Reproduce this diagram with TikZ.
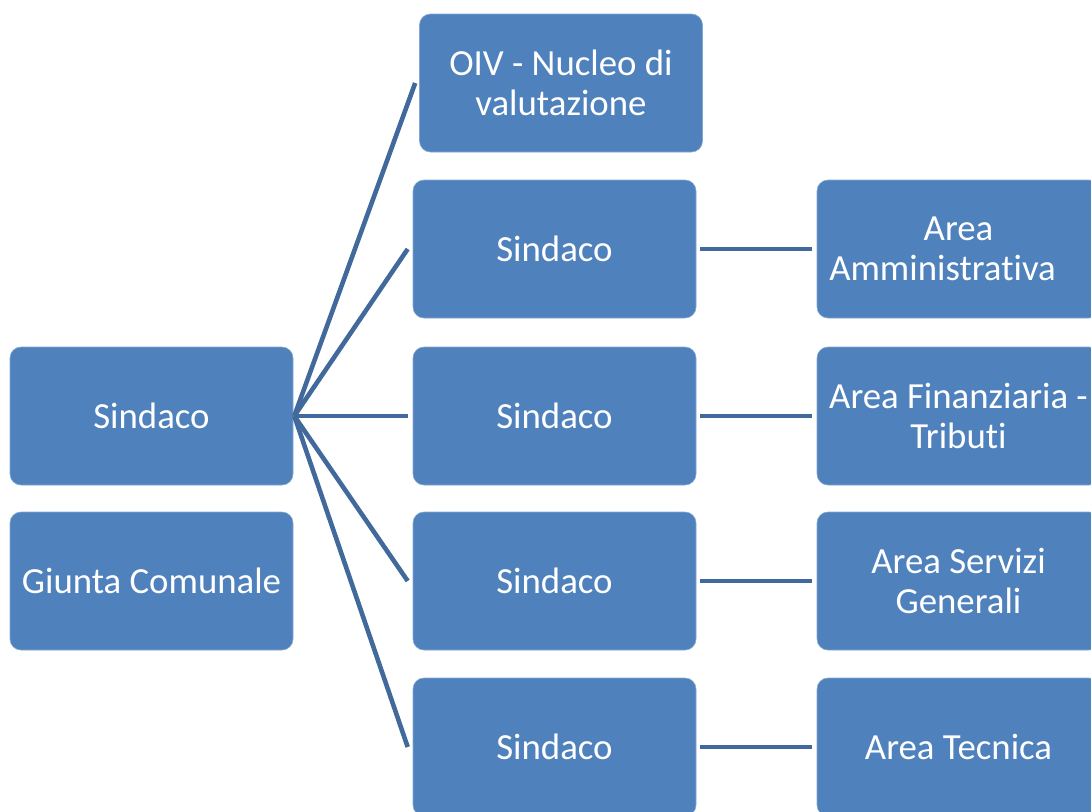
\documentclass[tikz,border=0pt]{standalone}
\usepackage{fontspec}
\setmainfont{Carlito}[Ligatures={NoCommon,NoRare,NoContextual},RawFeature={-liga;-clig;-dlig}]
\definecolor{boxblue}{HTML}{4F81BD}
\definecolor{lineblue}{HTML}{41699B}
\begin{document}
\begin{tikzpicture}[x=1pt,y=-1pt,
  box/.style={fill=boxblue, draw=boxblue!70!white, line width=0.6pt, rounded corners=11pt,
    minimum width=283pt, minimum height=138pt, inner sep=0pt, align=center,
    text=white, font=\fontsize{36.8}{40}\selectfont},
  conn/.style={draw=lineblue, line width=4.6pt}]
\useasboundingbox (0,0) rectangle (1091,811);
\clip (0,0) rectangle (1091,811);
% left column
\node[box] (sind) at (151.5,416) {Sindaco};
\node[box] (giunta) at (151.5,581) {Giunta Comunale};
% middle column
\node[box] (oiv) at (561,83) {OIV - Nucleo di\\valutazione};
\node[box] (m1) at (554.5,249) {Sindaco};
\node[box] (m2) at (554.5,416) {Sindaco};
\node[box] (m3) at (554.5,581) {Sindaco};
\node[box] (m4) at (554.5,747) {Sindaco};
% right column
\node[box] (a1) at (958.5,249) {Area\\Amministrativa\hspace*{32pt}};
\node[box] (a2) at (958.5,416) {Area Finanziaria -\\Tributi};
\node[box] (a3) at (958.5,581) {Area Servizi\\Generali};
\node[box] (a4) at (958.5,747) {Area Tecnica};
% fan connectors
\draw[conn] ([xshift=1pt]sind.east) -- ([xshift=-4pt]oiv.west);
\draw[conn] ([xshift=1pt]sind.east) -- ([xshift=-5pt]m1.west);
\draw[conn] ([xshift=1pt]sind.east) -- ([xshift=-5pt]m2.west);
\draw[conn] ([xshift=1pt]sind.east) -- ([xshift=-5pt]m3.west);
\draw[conn] ([xshift=1pt]sind.east) -- ([xshift=-5pt]m4.west);
% right connectors
\draw[conn] ([xshift=4pt]m1.east) -- ([xshift=-5pt]a1.west);
\draw[conn] ([xshift=4pt]m2.east) -- ([xshift=-5pt]a2.west);
\draw[conn] ([xshift=4pt]m3.east) -- ([xshift=-5pt]a3.west);
\draw[conn] ([xshift=4pt]m4.east) -- ([xshift=-5pt]a4.west);
\end{tikzpicture}
\end{document}
